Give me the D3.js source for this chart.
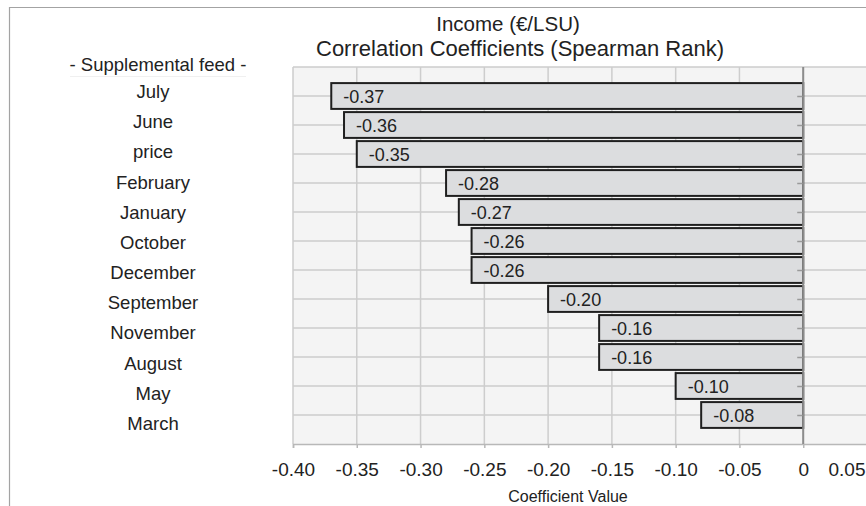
<!DOCTYPE html>
<html>
<head>
<meta charset="utf-8">
<script src="https://cdn.jsdelivr.net/npm/d3@7/dist/d3.min.js"></script>
<style>
  html, body { margin: 0; padding: 0; background: #fff; }
  svg { display: block; font-family: "Liberation Sans", Arial, Helvetica, sans-serif; }
</style>
</head>
<body>
<svg id="chart" width="866" height="506"></svg>
<script>
// Spearman rank correlation of supplemental feed variables with income (€/LSU)
const categories = ["July", "June", "price", "February", "January", "October",
                    "December", "September", "November", "August", "May", "March"];
const coefficients = [-0.37, -0.36, -0.35, -0.28, -0.27, -0.26,
                      -0.26, -0.20, -0.16, -0.16, -0.10, -0.08];
const xTicks = [-0.40, -0.35, -0.30, -0.25, -0.20, -0.15, -0.10, -0.05, 0, 0.05];
const titleLines = ["Income (€/LSU)", "Correlation Coefficients (Spearman Rank)"];
const groupHeader = "- Supplemental feed -";
const xTitle = "Coefficient Value";

const svg = d3.select("#chart");
const W = 866, H = 506;
const plot = { left: 293, top: 67, right: 867, bottom: 444 };

const x = d3.scaleLinear().domain([-0.40, 0.05]).range([plot.left, plot.right]);
const y = d3.scalePoint().domain(categories).range([plot.top, plot.bottom]).padding(1);
// category text column sits a little apart from the bar rows
const yLabel = d3.scalePoint().domain(categories).range([98, 430]);

const data = categories.map((c, i) => ({ name: c, value: coefficients[i] }));
// plain hyphen-minus, two decimals, bare zero
const fmt = v => (v === 0 ? "0" : v.toFixed(2));

// chart frame
svg.append("rect").attr("width", W).attr("height", H).attr("fill", "#fff");
svg.append("path")
  .attr("d", `M9.5,${H} V7.5 H${W}`)
  .attr("fill", "none").attr("stroke", "#a3a3a3").attr("stroke-width", 1.2);

// plot area background
svg.append("rect")
  .attr("x", plot.left).attr("y", plot.top)
  .attr("width", plot.right - plot.left).attr("height", plot.bottom - plot.top)
  .attr("fill", "#f4f4f4");

const grid = svg.append("g").attr("stroke", "#cdcdcd").attr("stroke-width", 1.5);
grid.selectAll("line.v").data(xTicks).join("line").attr("class", "v")
  .attr("x1", d => x(d)).attr("x2", d => x(d))
  .attr("y1", plot.top).attr("y2", plot.bottom);
grid.selectAll("line.h").data(categories).join("line").attr("class", "h")
  .attr("x1", plot.left).attr("x2", plot.right)
  .attr("y1", d => y(d)).attr("y2", d => y(d));
grid.append("line")
  .attr("x1", plot.left).attr("x2", plot.right)
  .attr("y1", plot.top).attr("y2", plot.top);

// bottom value axis
const xAxis = d3.axisBottom(x).tickValues(xTicks).tickSize(4).tickPadding(0).tickFormat(fmt);
const gx = svg.append("g").attr("transform", `translate(0,${plot.bottom})`).call(xAxis);
gx.select(".domain").attr("stroke", "#b8b8b8").attr("stroke-width", 1.5);
gx.selectAll(".tick line").attr("stroke", "#b8b8b8").attr("stroke-width", 1.5);
gx.selectAll(".tick text")
  .attr("y", 32).attr("dy", 0)
  .attr("fill", "#222").attr("font-size", 19)
  .attr("font-family", "Liberation Sans, Arial, sans-serif");
gx.selectAll(".tick").filter(d => d === xTicks[xTicks.length - 1]).select("text")
  .attr("text-anchor", "end").attr("x", W - x(xTicks[xTicks.length - 1]) - 1);

// bars
const barH = y.step() * 0.89;
svg.append("g").selectAll("rect").data(data).join("rect")
  .attr("x", d => x(Math.min(0, d.value)))
  .attr("y", d => y(d.name) - barH / 2)
  .attr("width", d => Math.abs(x(d.value) - x(0)))
  .attr("height", barH)
  .attr("fill", "#dcdddf")
  .attr("stroke", "#1f1f1f")
  .attr("stroke-width", 2);

// value labels inside the bars
svg.append("g").selectAll("text").data(data).join("text")
  .attr("x", d => x(d.value) + 12)
  .attr("y", d => y(d.name) + 7)
  .attr("font-size", 18)
  .attr("fill", "#222")
  .text(d => fmt(d.value));

// zero axis with category ticks
const yAxis = d3.axisLeft(y).tickSize(6).tickFormat("");
const gy = svg.append("g").attr("transform", `translate(${x(0)},0)`).call(yAxis);
gy.select(".domain").remove();
gy.selectAll(".tick line").attr("stroke", "#9a9a9a").attr("stroke-width", 1.5);
svg.append("line")
  .attr("x1", x(0)).attr("x2", x(0))
  .attr("y1", plot.top).attr("y2", plot.bottom)
  .attr("stroke", "#8c8c8c").attr("stroke-width", 2);

// category names
svg.append("text")
  .attr("x", 158).attr("y", 70.5)
  .attr("text-anchor", "middle").attr("font-size", 18.5).attr("fill", "#222")
  .text(groupHeader);
svg.append("line")
  .attr("x1", 70).attr("x2", 246).attr("y1", 76.5).attr("y2", 76.5)
  .attr("stroke", "#f0f0f0").attr("stroke-width", 1);
svg.append("g").selectAll("text").data(categories).join("text")
  .attr("x", 153)
  .attr("y", d => yLabel(d))
  .attr("text-anchor", "middle").attr("font-size", 18.5).attr("fill", "#222")
  .text(d => d);

// titles
svg.append("text")
  .attr("x", 508).attr("y", 30.5)
  .attr("text-anchor", "middle").attr("font-size", 20.5).attr("fill", "#222")
  .text(titleLines[0]);
svg.append("text")
  .attr("x", 520).attr("y", 56)
  .attr("text-anchor", "middle").attr("font-size", 22).attr("fill", "#222")
  .text(titleLines[1]);

svg.append("text")
  .attr("x", 568).attr("y", 502)
  .attr("text-anchor", "middle").attr("font-size", 16).attr("fill", "#222")
  .text(xTitle);
</script>
</body>
</html>
